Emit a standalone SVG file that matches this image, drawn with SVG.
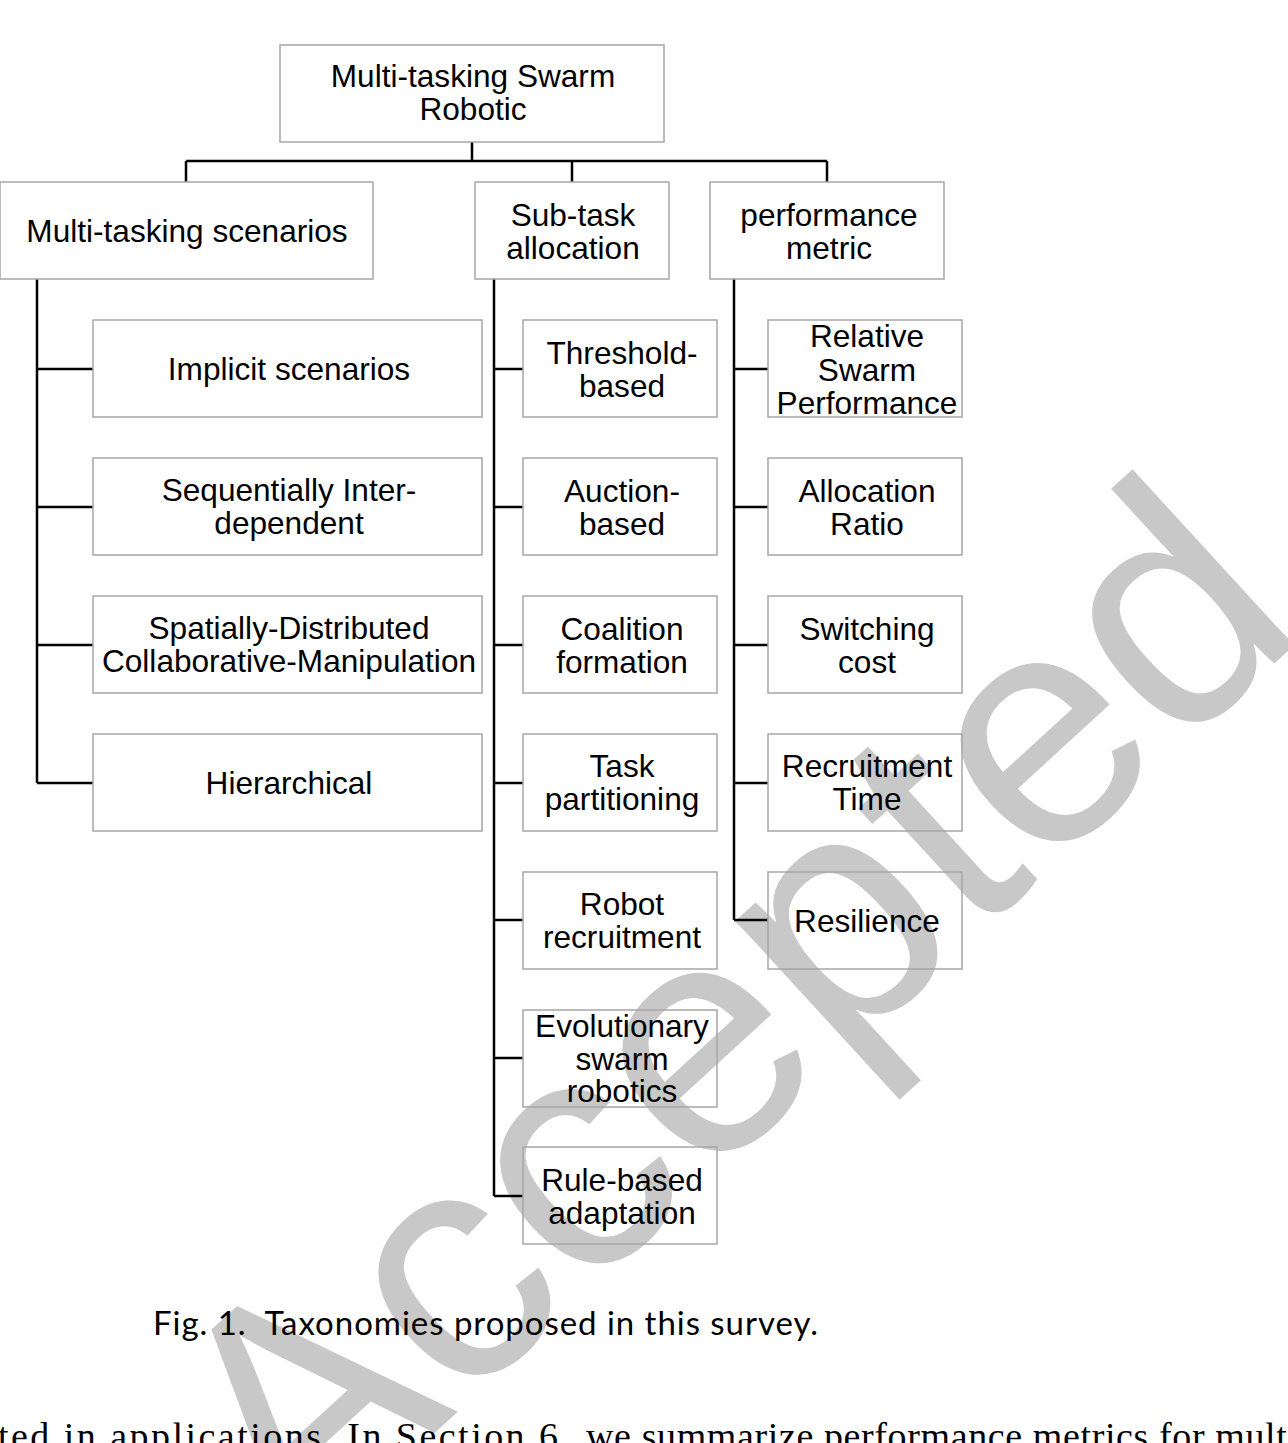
<svg xmlns="http://www.w3.org/2000/svg" width="1288" height="1443" viewBox="0 0 1288 1443">
<style>
.box{fill:none;stroke:#a6a6a6;stroke-width:1.5}
.lbl{font-family:"Liberation Sans",Arial,sans-serif;font-size:31.6px;fill:#000;text-anchor:middle}
.con{fill:none;stroke:#000;stroke-width:2.5}
.wm{font-family:"Liberation Sans",Arial,sans-serif;font-size:330px;fill:#c8c8c8}
.body{font-family:"Liberation Serif",serif;font-size:38px;fill:#000}
</style>
<rect width="1288" height="1443" fill="#fff"/>
<text class="wm" transform="translate(296,1560) rotate(-42.5)">Accepted</text>
<g id="connectors" class="con">
<path d="M472 142V161M186 161H827M186 161V182M572 161V182M827 161V182"/>
<path d="M37 279V783M37 369H93M37 507H93M37 645H93M37 783H93"/>
<path d="M494 279V1196M494 369H523M494 507H523M494 645H523M494 783H523M494 920H523M494 1058H523M494 1196H523"/>
<path d="M734 279V920M734 369H768M734 507H768M734 645H768M734 783H768M734 920H768"/>
</g>
<g id="root"><rect class="box" x="280" y="45" width="384" height="97"/><text class="lbl" x="473" y="87">Multi-tasking Swarm</text><text class="lbl" x="473" y="120">Robotic</text></g>
<g id="scenarios"><rect class="box" x="0" y="182" width="373" height="97"/><text class="lbl" x="187" y="242">Multi-tasking scenarios</text></g>
<g id="allocation"><rect class="box" x="475" y="182" width="194" height="97"/><text class="lbl" x="573" y="226">Sub-task</text><text class="lbl" x="573" y="259">allocation</text></g>
<g id="metric"><rect class="box" x="710" y="182" width="234" height="97"/><text class="lbl" x="829" y="226">performance</text><text class="lbl" x="829" y="259">metric</text></g>

<g id="implicit"><rect class="box" x="93" y="320" width="389" height="97"/><text class="lbl" x="289" y="380">Implicit scenarios</text></g>
<g id="sequential"><rect class="box" x="93" y="458" width="389" height="97"/><text class="lbl" x="289" y="501">Sequentially Inter-</text><text class="lbl" x="289" y="534">dependent</text></g>
<g id="spatial"><rect class="box" x="93" y="596" width="389" height="97"/><text class="lbl" x="289" y="639">Spatially-Distributed</text><text class="lbl" x="289" y="672">Collaborative-Manipulation</text></g>
<g id="hierarchical"><rect class="box" x="93" y="734" width="389" height="97"/><text class="lbl" x="289" y="794">Hierarchical</text></g>

<g id="threshold"><rect class="box" x="523" y="320" width="194" height="97"/><text class="lbl" x="622" y="364">Threshold-</text><text class="lbl" x="622" y="397">based</text></g>
<g id="auction"><rect class="box" x="523" y="458" width="194" height="97"/><text class="lbl" x="622" y="502">Auction-</text><text class="lbl" x="622" y="535">based</text></g>
<g id="coalition"><rect class="box" x="523" y="596" width="194" height="97"/><text class="lbl" x="622" y="640">Coalition</text><text class="lbl" x="622" y="673">formation</text></g>
<g id="partitioning"><rect class="box" x="523" y="734" width="194" height="97"/><text class="lbl" x="622" y="777">Task</text><text class="lbl" x="622" y="810">partitioning</text></g>
<g id="recruitment"><rect class="box" x="523" y="872" width="194" height="97"/><text class="lbl" x="622" y="915">Robot</text><text class="lbl" x="622" y="948">recruitment</text></g>
<g id="evolutionary"><rect class="box" x="523" y="1010" width="194" height="97"/><text class="lbl" x="622" y="1037">Evolutionary</text><text class="lbl" x="622" y="1070">swarm</text><text class="lbl" x="622" y="1102">robotics</text></g>
<g id="rulebased"><rect class="box" x="523" y="1147" width="194" height="97"/><text class="lbl" x="622" y="1191">Rule-based</text><text class="lbl" x="622" y="1224">adaptation</text></g>

<g id="rsp"><rect class="box" x="768" y="320" width="194" height="97"/><text class="lbl" x="867" y="347">Relative</text><text class="lbl" x="867" y="381">Swarm</text><text class="lbl" x="867" y="414">Performance</text></g>
<g id="ratio"><rect class="box" x="768" y="458" width="194" height="97"/><text class="lbl" x="867" y="502">Allocation</text><text class="lbl" x="867" y="535">Ratio</text></g>
<g id="switching"><rect class="box" x="768" y="596" width="194" height="97"/><text class="lbl" x="867" y="640">Switching</text><text class="lbl" x="867" y="673">cost</text></g>
<g id="rtime"><rect class="box" x="768" y="734" width="194" height="97"/><text class="lbl" x="867" y="777">Recruitment</text><text class="lbl" x="867" y="810">Time</text></g>
<g id="resilience"><rect class="box" x="768" y="872" width="194" height="97"/><text class="lbl" x="867" y="932">Resilience</text></g>

<text x="153" y="1335" font-family="Lato,'Open Sans',sans-serif" font-size="33" fill="#000" textLength="665">Fig. 1.&#160; Taxonomies proposed in this survey.</text>
<text class="body" x="-2" y="1449" textLength="572">ted in applications. In Section 6,</text>
<text class="body" x="586" y="1449" textLength="712">we summarize performance metrics for multi</text>
</svg>
